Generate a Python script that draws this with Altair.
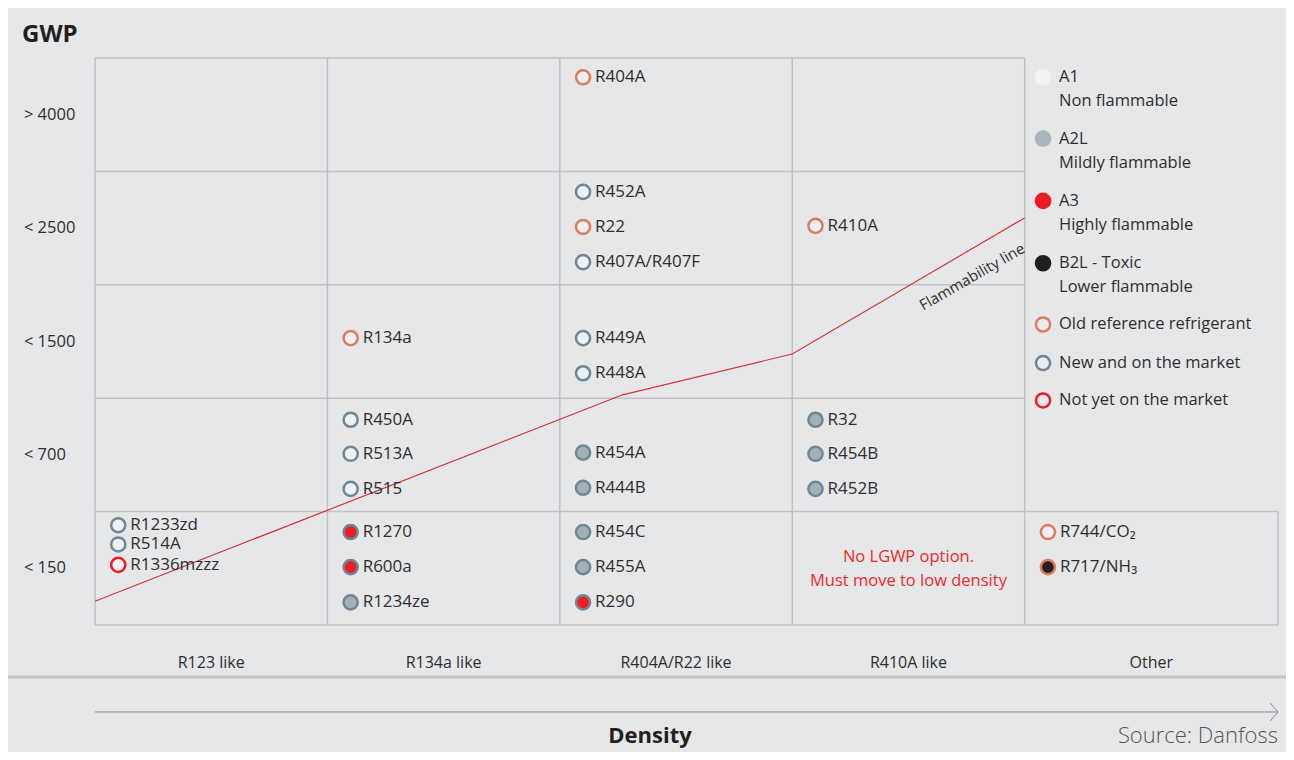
import altair as alt
import pandas as pd

# ---------------- data ----------------
columns = ["R123 like", "R134a like", "R404A/R22 like", "R410A like", "Other"]
col_edges = [0, 1, 2, 3, 4, 5.09]
gwp_rows = ["< 150", "< 700", "< 1500", "< 2500", "> 4000"]

names = ["R404A", "R452A", "R22", "R407A/R407F", "R410A",
         "R134a", "R449A", "R448A",
         "R450A", "R513A", "R515", "R454A", "R444B", "R32", "R454B", "R452B",
         "R1233zd", "R514A", "R1336mzzz", "R1270", "R600a", "R1234ze",
         "R454C", "R455A", "R290", "R744/CO₂", "R717/NH₃"]
col_idx = [2, 2, 2, 2, 3,
           1, 2, 2,
           1, 1, 1, 2, 2, 3, 3, 3,
           0, 0, 0, 1, 1, 1,
           2, 2, 2, 4, 4]
row_idx = [4, 3, 3, 3, 3,
           2, 2, 2,
           1, 1, 1, 1, 1, 1, 1, 1,
           0, 0, 0, 0, 0, 0,
           0, 0, 0, 0, 0]
cell_pos = [0.17, 0.18, 0.49, 0.80, 0.48,
            0.47, 0.47, 0.78,
            0.19, 0.49, 0.80, 0.48, 0.79, 0.19, 0.49, 0.80,
            0.12, 0.29, 0.47, 0.18, 0.49, 0.80,
            0.18, 0.49, 0.80, 0.18, 0.49]
safety = ["A1", "A1", "A1", "A1", "A1",
          "A1", "A1", "A1",
          "A1", "A1", "A1", "A2L", "A2L", "A2L", "A2L", "A2L",
          "A1", "A1", "A1", "A3", "A3", "A2L",
          "A2L", "A2L", "A3", "A1", "B2L"]
status = ["old", "new", "old", "new", "old",
          "old", "new", "new",
          "new", "new", "new", "new", "new", "new", "new", "new",
          "new", "new", "notyet", "new", "new", "new",
          "new", "new", "new", "old", "old"]

safety_classes = ["A1", "A2L", "A3", "B2L"]
safety_fill = ["#eef1f4", "#a3b0b8", "#ee1c25", "#231f20"]
status_kinds = ["old", "new", "notyet"]
status_stroke = ["#e07a5c", "#6e8896", "#ee1c25"]

flam_x = [0, 2.27, 3.0, 4.0]
flam_y = [0.21, 2.03, 2.39, 3.59]

legend_title = ["A1", "A2L", "A3", "B2L - Toxic", "Old reference refrigerant",
                "New and on the market", "Not yet on the market"]
legend_sub = ["Non flammable", "Mildly flammable", "Highly flammable",
              "Lower flammable", "", "", ""]
legend_y = [4.83, 4.29, 3.74, 3.19, 2.65, 2.31, 1.98]
legend_fill = ["#f1f3f5", "#a9b5bc", "#ee1c25", "#231f20", "#e9ebee", "#e9ebee", "#e9ebee"]
legend_stroke = ["#f1f3f5", "#a9b5bc", "#ee1c25", "#231f20", "#e07a5c", "#6e8896", "#ee1c25"]

# ---------------- tables ----------------
BG = "#e6e7e9"
FONT = "Open Sans"
TXT = "#2e2e2e"

xs = alt.Scale(domain=[0, 5.09], nice=False, zero=False)
ys = alt.Scale(domain=[0, 5], nice=False, zero=False)


def X(f):
    return alt.X(f, type="quantitative", scale=xs, axis=None)


def Y(f):
    return alt.Y(f, type="quantitative", scale=ys, axis=None)


pts = pd.DataFrame({"name": names, "col": col_idx, "row": row_idx, "pos": cell_pos,
                    "safety": safety, "status": status})
pts["x"] = pts["col"] + 0.1
pts["y"] = pts["row"] + 1 - pts["pos"]

segs = []
for r in range(1, 6):
    segs.append({"x": 0, "x2": 4 if r > 1 else col_edges[-1], "y": r, "y2": r})
segs.append({"x": 0, "x2": col_edges[-1], "y": 0, "y2": 0})
for c in col_edges[:5]:
    segs.append({"x": c, "x2": c, "y": 0, "y2": 5})
segs.append({"x": col_edges[-1], "x2": col_edges[-1], "y": 0, "y2": 1})
grid = pd.DataFrame(segs)

rowlab = pd.DataFrame({"label": gwp_rows, "y": [i + 0.5 for i in range(5)], "x": -0.306})
collab = pd.DataFrame({"label": columns,
                       "x": [(col_edges[i] + col_edges[i + 1]) / 2 for i in range(5)],
                       "y": -0.335})
flam = pd.DataFrame({"x": flam_x, "y": flam_y, "o": range(len(flam_x))})
leg = pd.DataFrame({"t": legend_title, "s": legend_sub, "y": legend_y,
                    "fill": legend_fill, "stroke": legend_stroke})
leg["x"] = 4.079
leg["y2"] = leg["y"] - 0.212
leg_sub = leg[leg["s"] != ""]

# ---------------- layers ----------------
grid_l = alt.Chart(grid).mark_rule(color="#bfc1c4", strokeWidth=1.5).encode(
    x=X("x"), x2="x2", y=Y("y"), y2="y2")

flam_l = alt.Chart(flam).mark_line(color="#d8353c", strokeWidth=1.2).encode(
    x=X("x"), y=Y("y"), order="o:Q")

flam_txt = alt.Chart(pd.DataFrame({"t": ["Flammability line"], "x": [3.774], "y": [3.07]})).mark_text(
    font=FONT, fontSize=15, color=TXT, angle=330).encode(x=X("x"), y=Y("y"), text="t:N")

pt_l = alt.Chart(pts).mark_point(shape="circle", filled=True, size=200, strokeWidth=2.5,
                                 opacity=1).encode(
    x=X("x"), y=Y("y"),
    fill=alt.Fill("safety:N", scale=alt.Scale(domain=safety_classes, range=safety_fill), legend=None),
    stroke=alt.Stroke("status:N", scale=alt.Scale(domain=status_kinds, range=status_stroke), legend=None))

pt_txt = alt.Chart(pts).mark_text(font=FONT, fontSize=17, color=TXT, align="left", dx=12).encode(
    x=X("x"), y=Y("y"), text="name:N")

row_txt = alt.Chart(rowlab).mark_text(font=FONT, fontSize=16.5, color=TXT, align="left").encode(
    x=X("x"), y=Y("y"), text="label:N")

col_txt = alt.Chart(collab).mark_text(font=FONT, fontSize=16, color=TXT).encode(
    x=X("x"), y=Y("y"), text="label:N")

gwp_txt = alt.Chart(pd.DataFrame({"t": ["GWP"], "x": [-0.314], "y": [5.2]})).mark_text(
    font=FONT, fontSize=24, fontWeight="bold", color="#231f20", align="left").encode(
    x=X("x"), y=Y("y"), text="t:N")

nolgwp = alt.Chart(pd.DataFrame({"t": ["No LGWP option.", "Must move to low density"],
                                 "x": [3.5, 3.5], "y": [0.6, 0.388]})).mark_text(
    font=FONT, fontSize=16.5, color="#ee2a2a").encode(x=X("x"), y=Y("y"), text="t:N")

leg_pt = alt.Chart(leg).mark_point(shape="circle", filled=True, size=200, strokeWidth=2.5,
                                   opacity=1).encode(
    x=X("x"), y=Y("y"), fill=alt.Fill("fill:N", scale=None), stroke=alt.Stroke("stroke:N", scale=None))
leg_t = alt.Chart(leg).mark_text(font=FONT, fontSize=16.5, color=TXT, align="left", dx=16).encode(
    x=X("x"), y=Y("y"), text="t:N")
leg_s = alt.Chart(leg_sub).mark_text(font=FONT, fontSize=16.5, color=TXT, align="left", dx=16).encode(
    x=X("x"), y=Y("y2"), text="s:N")

sep = alt.Chart(pd.DataFrame({"x": [-0.41], "x2": [5.125], "y": [-0.459]})).mark_rule(
    color="#c4c6c9", strokeWidth=3).encode(x=X("x"), x2="x2", y=Y("y"))

arrow = alt.Chart(pd.DataFrame({"x": [0, 5.056, 5.056], "x2": [5.09, 5.09, 5.09],
                                "y": [-0.767, -0.688, -0.847], "y2": [-0.767, -0.767, -0.767]})).mark_rule(
    color="#8a8c8f", strokeWidth=1).encode(x=X("x"), x2="x2", y=Y("y"), y2="y2")

density = alt.Chart(pd.DataFrame({"t": ["Density"], "x": [2.388], "y": [-0.975]})).mark_text(
    font=FONT, fontSize=22, fontWeight="bold", color="#231f20").encode(x=X("x"), y=Y("y"), text="t:N")

source = alt.Chart(pd.DataFrame({"t": ["Source: Danfoss"], "x": [5.09], "y": [-0.975]})).mark_text(
    font=FONT, fontSize=22, fontWeight=300, color="#555555", align="right").encode(
    x=X("x"), y=Y("y"), text="t:N")

chart = alt.layer(grid_l, flam_l, flam_txt, pt_l, pt_txt, row_txt, col_txt, gwp_txt, nolgwp,
                  leg_pt, leg_t, leg_s, sep, arrow, density, source).properties(
    width=1183, height=567,
    autosize=alt.AutoSizeParams(type="none"),
    padding={"left": 87, "top": 50, "right": 8, "bottom": 127},
    background=BG,
).configure_view(stroke=None)

chart.save("out.html", embed_options={"renderer": "svg", "actions": False})
